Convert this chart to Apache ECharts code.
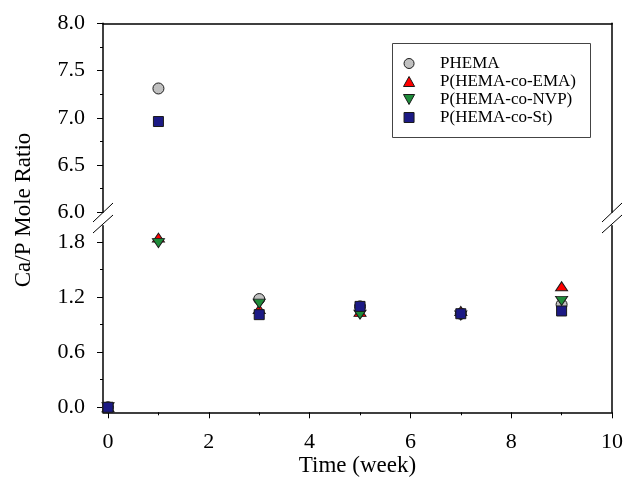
<!DOCTYPE html>
<html>
<head>
<meta charset="utf-8">
<script src="https://cdn.jsdelivr.net/npm/echarts@6/dist/echarts.min.js"></script>
<style>
html,body{margin:0;padding:0;background:#fff;}
#chart{width:638px;height:487px;}
</style>
</head>
<body>
<div id="chart"></div>
<script>
// ---- data ----
var weeks = [0, 1, 3, 5, 7, 9];
var phema = [0, 7.31, 1.18, 1.10, 1.02, 1.12];
var hemaEma = [0, 1.85, 1.07, 1.04, 1.05, 1.32];
var hemaNvp = [0, 1.79, 1.13, 1.01, 1.00, 1.16];
var hemaSt = [0, 6.96, 1.01, 1.10, 1.02, 1.05];
var seriesNames = ['PHEMA', 'P(HEMA-co-EMA)', 'P(HEMA-co-NVP)', 'P(HEMA-co-St)'];
var xMajorTicks = [0, 2, 4, 6, 8, 10];
var xMinorTicks = [1, 3, 5, 7, 9];
var yLowMajorTicks = [0, 0.6, 1.2, 1.8];
var yLowMinorTicks = [0.3, 0.9, 1.5];
var breakValue = 4;

// ---- styles ----
var FONT = 'Liberation Serif';
var styles = [
  {symbol: 'circle', size: 11, color: '#C0C0C0'},
  {symbol: 'path://M5,0 L10,9 L0,9 Z', size: [12, 10], color: '#FF0000'},
  {symbol: 'path://M0,0 L10,0 L5,9 Z', size: [12, 10], color: '#1E8C3A'},
  {symbol: 'path://M0,0 L10,0 L10,10 L0,10 Z', size: 10, color: '#1C1A85'}
];
var allValues = [phema, hemaEma, hemaNvp, hemaSt];

var series = [];
allValues.forEach(function (vals, i) {
  var low = [], high = [];
  vals.forEach(function (v, j) {
    if (v > breakValue) high.push([weeks[j], v]); else low.push([weeks[j], v]);
  });
  var base = {
    type: 'scatter',
    name: seriesNames[i],
    symbol: styles[i].symbol,
    symbolSize: styles[i].size,
    symbolKeepAspect: true,
    itemStyle: {color: styles[i].color, borderColor: '#1a1a1a', borderWidth: 1, opacity: 1},
    emphasis: {disabled: true},
    z: 2 + i
  };
  series.push(Object.assign({}, base, {xAxisIndex: 1, yAxisIndex: 2, data: low}));
  if (high.length) series.push(Object.assign({}, base, {xAxisIndex: 0, yAxisIndex: 0, data: high}));
});

var lineStyle = {color: '#000', width: 1.5};
var labelStyle = {color: '#000', fontFamily: FONT, fontSize: 22};
var tickStyle = {color: '#000', width: 1};

var option = {
  animation: false,
  backgroundColor: '#fff',
  grid: [
    {left: 103, right: 26, top: 23.3, height: 188.9, containLabel: false},
    {left: 103, right: 26, top: 225.7, bottom: 74.7, containLabel: false}
  ],
  xAxis: [
    {gridIndex: 0, type: 'value', position: 'top', min: -0.1, max: 10,
     axisLine: {show: true, onZero: false, lineStyle: lineStyle}, axisTick: {show: false},
     axisLabel: {show: false}, splitLine: {show: false}},
    {gridIndex: 1, type: 'value', position: 'bottom', min: -0.1, max: 10,
     name: 'Time (week)', nameLocation: 'middle', nameGap: 42,
     nameTextStyle: {color: '#000', fontFamily: FONT, fontSize: 23},
     axisLine: {show: true, onZero: false, lineStyle: lineStyle},
     axisTick: {show: true, inside: false, length: 6, customValues: xMajorTicks, lineStyle: tickStyle},
     axisLabel: Object.assign({show: true, margin: 19, customValues: xMajorTicks}, labelStyle),
     splitLine: {show: false}},
    {gridIndex: 1, type: 'value', position: 'bottom', min: -0.1, max: 10,
     axisLine: {show: false, onZero: false},
     axisTick: {show: true, inside: false, length: 3, customValues: xMinorTicks, lineStyle: tickStyle},
     axisLabel: {show: false}, splitLine: {show: false}}
  ],
  yAxis: [
    {gridIndex: 0, type: 'value', position: 'left', min: 6, max: 8, interval: 0.5,
     axisLine: {show: true, onZero: false, lineStyle: lineStyle},
     axisTick: {show: true, inside: false, length: 6, lineStyle: tickStyle},
     minorTick: {show: true, splitNumber: 2, length: 3, lineStyle: tickStyle},
     axisLabel: Object.assign({margin: 18, formatter: function (v) { return v.toFixed(1); }}, labelStyle),
     splitLine: {show: false}, minorSplitLine: {show: false}},
    {gridIndex: 0, type: 'value', position: 'right', min: 6, max: 8,
     axisLine: {show: true, onZero: false, lineStyle: lineStyle}, axisTick: {show: false},
     axisLabel: {show: false}, splitLine: {show: false}},
    {gridIndex: 1, type: 'value', position: 'left', min: -0.055, max: 1.98,
     axisLine: {show: true, onZero: false, lineStyle: lineStyle},
     axisTick: {show: true, inside: false, length: 6, customValues: yLowMajorTicks, lineStyle: tickStyle},
     axisLabel: Object.assign({margin: 18, customValues: yLowMajorTicks, formatter: function (v) { return v.toFixed(1); }}, labelStyle),
     splitLine: {show: false}},
    {gridIndex: 1, type: 'value', position: 'left', min: -0.055, max: 1.98,
     axisLine: {show: false, onZero: false},
     axisTick: {show: true, inside: false, length: 3, customValues: yLowMinorTicks, lineStyle: tickStyle},
     axisLabel: {show: false}, splitLine: {show: false}},
    {gridIndex: 1, type: 'value', position: 'right', min: -0.055, max: 1.98,
     axisLine: {show: true, onZero: false, lineStyle: lineStyle}, axisTick: {show: false},
     axisLabel: {show: false}, splitLine: {show: false}}
  ],
  legend: {
    orient: 'vertical',
    left: 398, top: 50,
    itemWidth: 52, itemHeight: 10, itemGap: 1,
    selectedMode: false,
    textStyle: {color: '#000', fontFamily: FONT, fontSize: 17},
    data: seriesNames.map(function (n, i) {
      return {name: n, itemStyle: {color: styles[i].color, borderColor: '#1a1a1a', borderWidth: 1}};
    })
  },
  graphic: [
    {type: 'rect', shape: {x: 392.5, y: 43.5, width: 198, height: 94},
     style: {fill: 'none', stroke: '#444', lineWidth: 1}, z: 10},
    {type: 'text', x: 24, y: 210, rotation: Math.PI / 2,
     style: {text: 'Ca/P Mole Ratio', fill: '#000', font: '23px "Liberation Serif"', textAlign: 'center', textVerticalAlign: 'middle'}},
    {type: 'line', shape: {x1: 93, y1: 222, x2: 113, y2: 203}, style: {stroke: '#000', lineWidth: 1}},
    {type: 'line', shape: {x1: 93, y1: 233, x2: 113, y2: 215}, style: {stroke: '#000', lineWidth: 1}},
    {type: 'line', shape: {x1: 602, y1: 222, x2: 622, y2: 203}, style: {stroke: '#000', lineWidth: 1}},
    {type: 'line', shape: {x1: 602, y1: 233, x2: 622, y2: 215}, style: {stroke: '#000', lineWidth: 1}}
  ],
  series: series
};

var chart = echarts.init(document.getElementById('chart'), null, {renderer: 'canvas'});
chart.setOption(option);
</script>
</body>
</html>
